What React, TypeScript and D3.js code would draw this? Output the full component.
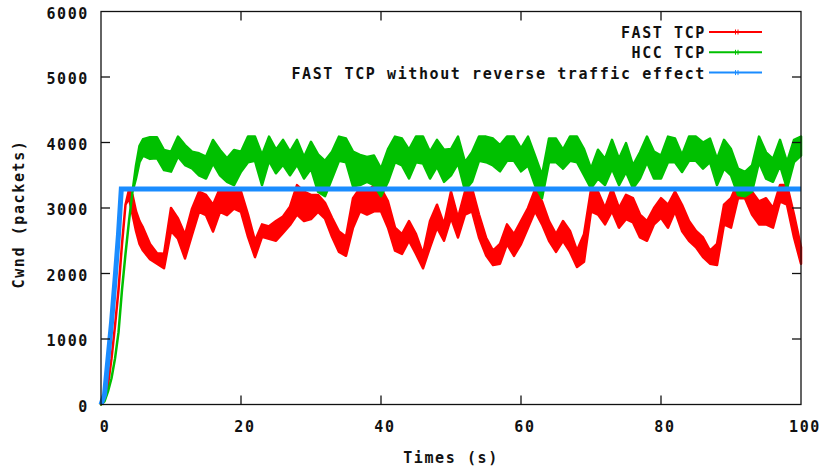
import * as d3 from 'd3'
import { useEffect, useRef } from 'react';

// time samples (s): finer during slow start, then one per second
const times = [0, 0.5, 1, 1.5, 2, 2.5, 3, 3.5, 4, 4.5, 5, 5.5, ...d3.range(6, 101)];

// FAST TCP cwnd band (upper / lower edge of the jitter)
const fastHi = [0, 80, 300, 700, 1200, 1750, 2450, 3050, 3280, 3200, 2950, 2800,
    2700, 2450, 2310, 2300, 3000, 2840, 2590, 2990, 3250, 3200, 3050, 3300, 3250, 3300, 3250,
    2900, 2500, 2750, 2720, 2800, 2870, 3020, 3350, 3250, 3200, 3200, 3080, 2850, 2640, 2560, 3150, 3300, 3250, 3350, 3300,
    3100, 2700, 2600, 2800, 2600, 2300, 2800, 3050, 2750, 3250, 2850, 3250, 3300, 2900, 2550, 2350, 2450, 2750, 2600, 2800,
    3000, 3280, 3100, 2800, 2600, 2800, 2650, 2350, 2600, 3280, 3250, 3000, 3300, 3000, 3200, 3150, 2900, 2800, 3000, 3150,
    3050, 3250, 3050, 2800, 2650, 2550, 2350, 2450, 3050, 3150, 3400, 3350, 3250, 3100, 3150, 3000, 3350, 3350, 2900, 2400];
const fastLo = [0, 80, 300, 700, 1200, 1750, 2450, 3050, 3150, 2900, 2650, 2450,
    2350, 2220, 2150, 2080, 2650, 2530, 2230, 2590, 2940, 2890, 2640, 2940, 2890, 2990, 2940,
    2560, 2250, 2560, 2530, 2500, 2620, 2740, 2900, 2800, 2830, 2940, 2840, 2560, 2330, 2270, 2700, 2950, 2900, 2950, 2950,
    2700, 2350, 2300, 2500, 2300, 2080, 2400, 2700, 2500, 2850, 2550, 2900, 2950, 2550, 2280, 2130, 2150, 2450, 2270, 2450,
    2700, 2950, 2750, 2500, 2330, 2500, 2330, 2100, 2180, 2950, 2900, 2750, 2950, 2700, 2830, 2780, 2550, 2500, 2750, 2850,
    2700, 2950, 2650, 2500, 2400, 2250, 2150, 2130, 2750, 2700, 3150, 3150, 2900, 2750, 2750, 2700, 3100, 3050, 2550, 2150];

// HCC TCP cwnd band
const hccHi = [0, 50, 200, 400, 700, 1100, 1750, 2300, 2800, 3250, 3650, 3950,
    4050, 4080, 4080, 3885, 3860, 4090, 3960, 3860, 3835, 3784, 4038, 3885, 3758, 3885, 3860,
    4090, 4090, 3810, 4090, 3890, 4040, 3860, 4040, 3780, 4010, 3820, 3720, 3860, 4090, 4060, 3860, 3810, 3780, 3800, 3600,
    3900, 4090, 4060, 3890, 4090, 4090, 3860, 4040, 3890, 3900, 4090, 3700, 3850, 4090, 4090, 4060, 3960, 4090, 4090, 3910,
    4090, 3800, 3500, 4060, 4060, 3890, 4090, 4090, 3900, 3600, 3890, 3750, 4040, 3750, 3990, 3650, 3850, 4090, 3860, 3800,
    4090, 4060, 3810, 4090, 4090, 4000, 4060, 3750, 4040, 3900, 3600, 3550, 3650, 4090, 3850, 3750, 4040, 3700, 4040, 4090];
const hccLo = [0, 50, 200, 400, 700, 1100, 1750, 2300, 2800, 3250, 3450, 3700,
    3800, 3750, 3760, 3580, 3555, 3785, 3656, 3605, 3500, 3450, 3680, 3500, 3400, 3350, 3555,
    3700, 3720, 3350, 3720, 3530, 3660, 3500, 3660, 3450, 3600, 3250, 3180, 3450, 3720, 3700, 3330, 3350, 3400, 3350, 3180,
    3400, 3700, 3650, 3450, 3700, 3680, 3450, 3630, 3400, 3500, 3680, 3270, 3400, 3720, 3700, 3650, 3560, 3720, 3720, 3560,
    3650, 3350, 3150, 3700, 3700, 3600, 3720, 3700, 3500, 3300, 3450, 3350, 3600, 3350, 3550, 3300, 3450, 3700, 3450, 3450,
    3700, 3700, 3550, 3720, 3720, 3600, 3700, 3350, 3600, 3500, 3200, 3180, 3250, 3700, 3450, 3400, 3650, 3300, 3700, 3800];

// FAST TCP without reverse traffic effect
const blueTimes = [0, 0.5, 1, 1.5, 2, 2.5, 2.9, 100];
const blueCwnd = [0, 150, 700, 1250, 1900, 2600, 3290, 3290];

const xTicks = [0, 20, 40, 60, 80, 100];
const yTicks = [0, 1000, 2000, 3000, 4000, 5000, 6000];
const legendNames = ["FAST TCP", "HCC TCP", "FAST TCP without reverse traffic effect"];
const colors = ["#ff0000", "#00c000", "#1a8cff"];

const FONT = "'DejaVu Sans Mono', 'Liberation Mono', monospace";

function drawChart(node) {
    var svg = d3.select(node);
    svg.selectAll("*").remove();

    var scX = d3.scaleLinear().domain([0, 100]).range([101, 801]),
        scY = d3.scaleLinear().domain([0, 6000]).range([404.5, 11.5]);

    var txt = (sel) => sel.attr("font-family", FONT).attr("font-weight", "bold")
        .attr("font-size", 15).attr("letter-spacing", 1.6).attr("fill", "#111");

    // bands: FAST first, then HCC on top
    var bands = [[fastHi, fastLo, colors[0]], [hccHi, hccLo, colors[1]]];
    bands.forEach(([hi, lo, c]) => {
        var area = d3.area()
            .x((d, i) => scX(times[i]))
            .y0((d, i) => scY(lo[i]))
            .y1((d, i) => scY(hi[i]));
        svg.append("path").datum(hi).attr("d", area)
            .attr("fill", c).attr("stroke", c).attr("stroke-width", 2.5)
            .attr("stroke-linejoin", "round");
    });

    var line = d3.line().x((d, i) => scX(blueTimes[i])).y(d => scY(d));
    svg.append("path").datum(blueCwnd).attr("d", line)
        .attr("fill", "none").attr("stroke", colors[2]).attr("stroke-width", 5);

    // frame
    svg.append("rect").attr("x", scX(0)).attr("y", scY(6000))
        .attr("width", scX(100) - scX(0)).attr("height", scY(0) - scY(6000))
        .attr("fill", "none").attr("stroke", "#111").attr("stroke-width", 1.3);

    // mirrored inward ticks
    var tk = 9;
    xTicks.slice(1, -1).forEach(t => {
        svg.append("line").attr("x1", scX(t)).attr("x2", scX(t)).attr("y1", scY(0)).attr("y2", scY(0) - tk)
            .attr("stroke", "#111").attr("stroke-width", 1.3);
        svg.append("line").attr("x1", scX(t)).attr("x2", scX(t)).attr("y1", scY(6000)).attr("y2", scY(6000) + tk)
            .attr("stroke", "#111").attr("stroke-width", 1.3);
    });
    yTicks.slice(1, -1).forEach(v => {
        svg.append("line").attr("x1", scX(0)).attr("x2", scX(0) + tk).attr("y1", scY(v)).attr("y2", scY(v))
            .attr("stroke", "#111").attr("stroke-width", 1.3);
        svg.append("line").attr("x1", scX(100)).attr("x2", scX(100) - tk).attr("y1", scY(v)).attr("y2", scY(v))
            .attr("stroke", "#111").attr("stroke-width", 1.3);
    });

    // tick labels
    svg.selectAll(".xl").data(xTicks).enter().append("text")
        .attr("x", d => scX(d) + 4).attr("y", 432).attr("text-anchor", "middle")
        .text(d => d).call(txt);
    svg.selectAll(".yl").data(yTicks).enter().append("text")
        .attr("x", 89).attr("y", d => scY(d) + 7).attr("text-anchor", "end")
        .text(d => d).call(txt);

    // axis titles
    svg.append("text").attr("x", 451).attr("y", 463).attr("text-anchor", "middle")
        .text("Times (s)").call(txt);
    svg.append("text").attr("transform", "translate(24,214) rotate(-90)").attr("text-anchor", "middle")
        .text("Cwnd (packets)").call(txt);

    // legend
    legendNames.forEach((name, i) => {
        var y = 32 + i * 20.3;
        svg.append("text").attr("x", 706).attr("y", y + 6).attr("text-anchor", "end")
            .text(name).call(txt);
        svg.append("line").attr("x1", 709).attr("x2", 762).attr("y1", y).attr("y2", y)
            .attr("stroke", colors[i]).attr("stroke-width", 2);
        svg.append("line").attr("x1", 735.5).attr("x2", 735.5).attr("y1", y - 2.5).attr("y2", y + 2.5)
            .attr("stroke", colors[i]).attr("stroke-width", 1);
        svg.append("line").attr("x1", 738).attr("x2", 738).attr("y1", y - 2.5).attr("y2", y + 2.5)
            .attr("stroke", colors[i]).attr("stroke-width", 1);
    });
}

function App() {
    const ref = useRef(null);
    useEffect(() => {
        drawChart(ref.current);
    }, []);

    return (
        <svg ref={ref} width={830} height={470}
            style={{ position: "absolute", left: 0, top: 0, background: "white" }}></svg>
    );
}

export default App;
